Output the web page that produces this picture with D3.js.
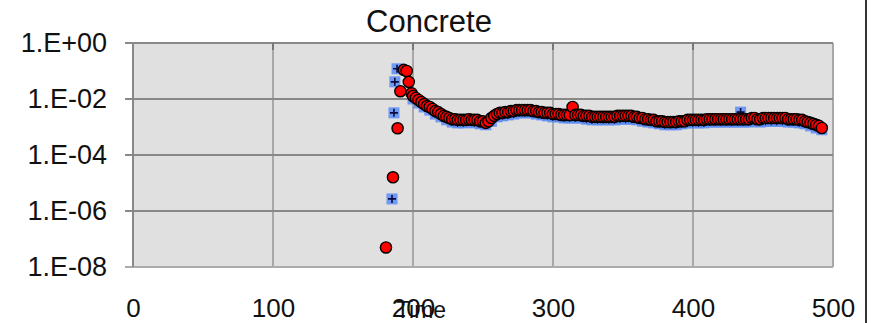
<!DOCTYPE html>
<html>
<head>
<meta charset="utf-8">
<script src="https://cdn.jsdelivr.net/npm/d3@7"></script>
<style>
  body { margin: 0; background: #fff; }
  svg { display: block; }
</style>
</head>
<body>
<div class="chart"></div>
<script>
        //Width and height
        var w = 871;
        var h = 323;

        var title = "Concrete";
        var xLabel = "Time";
        var xTicks = [0, 100, 200, 300, 400, 500];
        var yTicks = [1, 1e-2, 1e-4, 1e-6, 1e-8];
        var yTickLabels = ["1.E+00", "1.E-02", "1.E-04", "1.E-06", "1.E-08"];

        // red circles
        var redTime = [180.7, 185.7, 189, 191, 193.4, 195.5, 197, 199,
            200, 202, 204, 206, 208, 210, 212, 214, 216, 218, 220, 222, 224, 226, 228, 230,
            232, 234, 236, 238, 240, 242, 244, 246, 248, 250, 252, 254, 256, 258, 260, 262,
            264, 266, 268, 270, 272, 274, 276, 278, 280, 282, 284, 286, 288, 290, 292, 294,
            296, 298, 300, 302, 304, 306, 308, 310, 312, 314, 316, 318, 320, 322, 324, 326,
            328, 330, 332, 334, 336, 338, 340, 342, 344, 346, 348, 350, 352, 354, 356, 358,
            360, 362, 364, 366, 368, 370, 372, 374, 376, 378, 380, 382, 384, 386, 388, 390,
            392, 394, 396, 398, 400, 402, 404, 406, 408, 410, 412, 414, 416, 418, 420, 422,
            424, 426, 428, 430, 432, 434, 436, 438, 440, 442, 444, 446, 448, 450, 452, 454,
            456, 458, 460, 462, 464, 466, 468, 470, 472, 474, 476, 478, 480, 482, 484, 486,
            488, 490, 492];
        var redValue = [5e-8, 1.6e-5, 9e-4, 0.019, 0.11, 0.1, 0.041, 0.016,
            0.0128, 0.0109, 0.0092, 0.0078, 0.0066, 0.0056, 0.0052, 0.0044, 0.0037, 0.0034, 0.0029, 0.0025, 0.0023, 0.0021, 0.0019, 0.0019,
            0.0018, 0.0018, 0.0018, 0.0018, 0.0019, 0.0018, 0.0018, 0.0018, 0.0016, 0.0016, 0.0014, 0.0016, 0.0021, 0.0025, 0.0029, 0.0032,
            0.0032, 0.0034, 0.0034, 0.0037, 0.0037, 0.0040, 0.0040, 0.0040, 0.0040, 0.0040, 0.0040, 0.0037, 0.0037, 0.0034, 0.0034, 0.0032,
            0.0032, 0.0032, 0.0029, 0.0029, 0.0029, 0.0027, 0.0027, 0.0027, 0.0027, 0.0052, 0.0027, 0.0027, 0.0027, 0.0025, 0.0025, 0.0025,
            0.0023, 0.0023, 0.0023, 0.0023, 0.0023, 0.0023, 0.0023, 0.0023, 0.0023, 0.0025, 0.0025, 0.0025, 0.0025, 0.0025, 0.0025, 0.0023,
            0.0023, 0.0021, 0.0021, 0.0019, 0.0019, 0.0018, 0.0018, 0.0016, 0.0016, 0.0016, 0.0015, 0.0015, 0.0015, 0.0015, 0.0015, 0.0016,
            0.0016, 0.0016, 0.0018, 0.0018, 0.0018, 0.0018, 0.0018, 0.0018, 0.0018, 0.0019, 0.0019, 0.0019, 0.0019, 0.0019, 0.0019, 0.0019,
            0.0019, 0.0019, 0.0019, 0.0019, 0.0019, 0.0019, 0.0019, 0.0019, 0.0019, 0.0021, 0.0021, 0.0019, 0.0019, 0.0021, 0.0021, 0.0021,
            0.0021, 0.0021, 0.0021, 0.0021, 0.0021, 0.0021, 0.0019, 0.0019, 0.0019, 0.0019, 0.0018, 0.0018, 0.0016, 0.0015, 0.0014, 0.0013,
            0.0012, 0.0011, 0.00092];

        // blue plus markers
        var blueTime = [185, 186.4, 187, 188.6,
            200, 204, 208, 212, 216, 220, 224, 228, 232, 236, 240, 244, 248, 252, 256, 260,
            264, 268, 272, 276, 280, 284, 288, 292, 296, 300, 304, 308, 312, 316, 320, 324,
            328, 332, 336, 340, 344, 348, 352, 356, 360, 364, 368, 372, 376, 380, 384, 388,
            392, 396, 400, 404, 408, 412, 416, 420, 424, 428, 432, 434, 436, 440, 444, 448,
            452, 456, 460, 464, 468, 472, 476, 480, 484, 488, 492];
        var blueValue = [2.7e-6, 0.0032, 0.041, 0.12,
            0.0100, 0.0072, 0.0052, 0.0040, 0.0029, 0.0023, 0.0018, 0.0015, 0.0014, 0.0014, 0.0015, 0.0014, 0.0013, 0.0012, 0.0016, 0.0023,
            0.0025, 0.0027, 0.0029, 0.0032, 0.0032, 0.0032, 0.0029, 0.0027, 0.0025, 0.0023, 0.0023, 0.0021, 0.0021, 0.0021, 0.0021, 0.0019,
            0.0018, 0.0018, 0.0018, 0.0018, 0.0018, 0.0019, 0.0019, 0.0019, 0.0018, 0.0016, 0.0015, 0.0014, 0.0013, 0.0012, 0.0012, 0.0012,
            0.0013, 0.0014, 0.0014, 0.0014, 0.0014, 0.0015, 0.0015, 0.0015, 0.0015, 0.0015, 0.0015, 0.0034, 0.0015, 0.0015, 0.0016, 0.0015,
            0.0016, 0.0016, 0.0016, 0.0016, 0.0015, 0.0015, 0.0014, 0.0013, 0.0011, 0.00092, 0.00080];

        var plotL = 133, plotR = 833, plotT = 43, plotB = 267;
        var font = "'Liberation Sans', Arial, sans-serif";

        var xScale = d3.scaleLinear().domain([0, 500]).range([plotL, plotR]);
        var yScale = d3.scaleLog().domain([1e-8, 1]).range([plotB, plotT]);

        //Create SVG element
        var svg = d3.select("div.chart")
                    .append("svg")
                    .attr("width", w)
                    .attr("height", h);

        // plot area
        svg.append("rect")
           .attr("x", plotL)
           .attr("y", plotT)
           .attr("width", plotR - plotL)
           .attr("height", plotB - plotT)
           .attr("fill", "#e0e0e0");

        // vertical grid
        svg.append("g")
           .selectAll("line")
           .data(xTicks.slice(1))
           .enter()
           .append("line")
           .attr("x1", function(d) { return xScale(d); })
           .attr("x2", function(d) { return xScale(d); })
           .attr("y1", plotT)
           .attr("y2", plotB)
           .attr("stroke", "#a8a8a8")
           .attr("stroke-width", 2);

        // horizontal grid (extends left as tick marks)
        svg.append("g")
           .selectAll("line")
           .data(yTicks)
           .enter()
           .append("line")
           .attr("x1", plotL - 8)
           .attr("x2", plotR)
           .attr("y1", function(d) { return yScale(d); })
           .attr("y2", function(d) { return yScale(d); })
           .attr("stroke", function(d, i) { return i == yTicks.length - 1 ? "#ababab" : "#888"; })
           .attr("stroke-width", 2);

        // left axis line
        svg.append("line")
           .attr("x1", plotL).attr("x2", plotL)
           .attr("y1", plotT).attr("y2", plotB)
           .attr("stroke", "#888")
           .attr("stroke-width", 2);

        // little ticks under the top line
        svg.append("g")
           .selectAll("line")
           .data(xTicks.slice(1, 5))
           .enter()
           .append("line")
           .attr("x1", function(d) { return xScale(d); })
           .attr("x2", function(d) { return xScale(d); })
           .attr("y1", plotT)
           .attr("y2", plotT + 7)
           .attr("stroke", "#777")
           .attr("stroke-width", 2);

        // y axis labels
        var y_axis = d3.axisLeft(yScale)
            .tickValues(yTicks)
            .tickFormat(function(d, i) { return yTickLabels[i]; })
            .tickSize(0)
            .tickPadding(26);
        var gy = svg.append("g")
            .attr("transform", "translate(" + plotL + ",0)")
            .call(y_axis);
        gy.select(".domain").remove();
        gy.selectAll("text")
          .attr("font-family", font)
          .attr("font-size", "27px")
          .attr("fill", "#111");

        // x axis labels
        var x_axis = d3.axisBottom(xScale)
            .tickValues(xTicks)
            .tickSize(0)
            .tickPadding(32);
        var gx = svg.append("g")
            .attr("transform", "translate(0," + plotB + ")")
            .call(x_axis);
        gx.select(".domain").remove();
        gx.selectAll("text")
          .attr("font-family", font)
          .attr("font-size", "26px")
          .attr("fill", "#111");

        // blue plus markers
        var blue = svg.append("g")
           .selectAll("g")
           .data(blueTime)
           .enter()
           .append("g")
           .attr("transform", function(d, i) {
                return "translate(" + xScale(d) + "," + yScale(blueValue[i]) + ")";
           });
        blue.append("rect")
            .attr("x", -5.5).attr("y", -5.5)
            .attr("width", 11).attr("height", 11)
            .attr("fill", "#5a8cf6")
            .attr("opacity", 0.85);
        blue.append("path")
            .attr("d", "M-4,0H4M0,-4V4")
            .attr("stroke", "#0a0a40")
            .attr("stroke-width", 1.6);

        // red circles
        svg.append("g")
           .selectAll("circle")
           .data(redTime)
           .enter()
           .append("circle")
           .attr("cx", function(d) { return xScale(d); })
           .attr("cy", function(d, i) { return yScale(redValue[i]); })
           .attr("r", 5.6)
           .attr("fill", "#ff0000")
           .attr("stroke", "#000")
           .attr("stroke-width", 1.4);

        // title
        svg.append("text")
           .attr("x", 429)
           .attr("y", 32)
           .attr("text-anchor", "middle")
           .attr("font-family", font)
           .attr("font-size", "31px")
           .attr("fill", "#111")
           .text(title);

        // text label for the x axis
        svg.append("text")
           .attr("x", 421)
           .attr("y", 318)
           .attr("text-anchor", "middle")
           .attr("font-family", font)
           .attr("font-size", "23px")
           .attr("fill", "#111")
           .text(xLabel);

        // frame edge on the right
        svg.append("line")
           .attr("x1", 866).attr("x2", 866)
           .attr("y1", 0).attr("y2", h)
           .attr("stroke", "#333")
           .attr("stroke-width", 2);
</script>
</body>
</html>
